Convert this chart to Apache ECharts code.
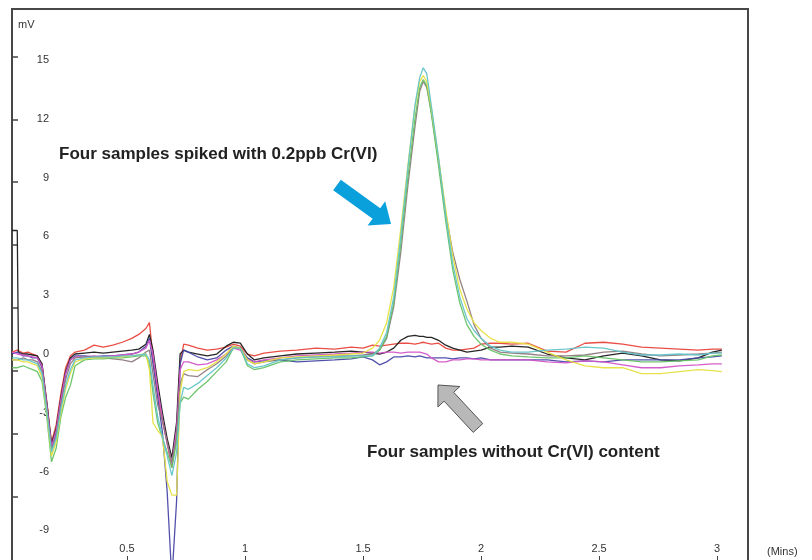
<!DOCTYPE html>
<html>
<head>
<meta charset="utf-8">
<script src="https://cdn.jsdelivr.net/npm/echarts@6/dist/echarts.min.js"></script>
<style>html,body{margin:0;padding:0;background:#fff}#main{width:812px;height:560px}</style>
</head>
<body>
<div id="main"></div>
<script>
var mins = [0.013, 0.035, 0.04, 0.06, 0.08, 0.10, 0.12, 0.14, 0.16, 0.18, 0.20, 0.22, 0.24, 0.26, 0.28,
    0.32, 0.36, 0.40, 0.44, 0.48, 0.52, 0.55, 0.58,
    0.595, 0.61, 0.63, 0.65, 0.67, 0.69, 0.71, 0.725, 0.74,
    0.76, 0.80, 0.84, 0.88, 0.92, 0.95, 0.98, 1.01, 1.04, 1.08,
    1.15, 1.22, 1.30, 1.38, 1.45, 1.50,
    1.54, 1.57, 1.60, 1.63, 1.66, 1.69, 1.72, 1.74, 1.755, 1.77, 1.79, 1.82, 1.85, 1.88, 1.91, 1.94, 1.97, 2.00, 2.04, 2.08, 2.13,
    2.20, 2.28, 2.36, 2.44, 2.52, 2.60, 2.68, 2.76, 2.84, 2.92, 2.98, 3.02];

// four samples without Cr(VI)
var red = [0.1, 0.2, 0.15, 0.05, 0.1, 0.0, -0.1, -0.6, -2.4, -4.5, -3.6, -2.0, -0.7, -0.1, 0.1,
    0.2, 0.45, 0.35, 0.45, 0.6, 0.8, 1.0, 1.3,
    1.6, -0.2, -2.0, -3.4, -4.5, -5.8, -4.0, -0.5, 0.5,
    0.45, 0.3, 0.2, 0.25, 0.35, 0.5, 0.4, 0.0, -0.1, 0.05,
    0.15, 0.2, 0.3, 0.25, 0.35, 0.3,
    0.45, 0.4, 0.45, 0.5, 0.55, 0.55, 0.5, 0.55, 0.6, 0.55, 0.5, 0.55, 0.3, 0.2, 0.2, 0.25, 0.3, 0.5, 0.55, 0.55, 0.5,
    0.55, 0.15, 0.1, 0.55, 0.6, 0.5, 0.35, 0.3, 0.25, 0.2, 0.25, 0.25];
var black = [6.3, 6.3, 0.1, 0.0, 0.0, -0.05, -0.1, -0.5, -2.5, -4.6, -3.8, -2.2, -0.9, -0.2, 0.0,
    0.05, 0.1, 0.05, 0.1, 0.15, 0.2, 0.25, 0.5,
    1.0, 0.2, -1.5, -3.0, -4.3, -5.3, -3.5, 0.0, 0.2,
    0.1, 0.0, -0.1, 0.0, 0.4, 0.6, 0.55, 0.0, -0.3, -0.2,
    -0.1, 0.0, 0.05, 0.1, 0.15, 0.1,
    0.05, 0.0, 0.1, 0.3, 0.7, 0.9, 0.95, 0.9, 0.9, 0.85, 0.85, 0.7, 0.45, 0.3, 0.2, 0.1, 0.15, 0.2, 0.35, 0.35, 0.4,
    0.35, 0.0, -0.2, -0.3, -0.1, 0.05, -0.1, -0.3, -0.35, -0.2, 0.1, 0.2];
var blue = [0.0, 0.1, 0.0, -0.1, -0.1, -0.2, -0.2, -0.7, -2.6, -4.8, -4.0, -2.4, -1.0, -0.3, -0.1,
    -0.1, -0.15, -0.1, -0.1, -0.05, 0.0, 0.1, 0.4,
    0.8, -0.5, -2.2, -4.0, -7.0, -11.5, -7.5, -0.5, 0.2,
    0.1, -0.15, -0.3, -0.2, 0.2, 0.4, 0.3, -0.2, -0.4, -0.35,
    -0.3, -0.4, -0.35, -0.3, -0.25, -0.15,
    -0.3, -0.55, -0.4, -0.15, -0.15, -0.1, -0.15, -0.1, -0.15, -0.2, -0.2, -0.2, -0.2, -0.25, -0.2, -0.2, -0.25, -0.2, -0.3, -0.3, -0.3,
    -0.3, -0.3, -0.4, -0.35, -0.4, -0.3, -0.3, -0.3, -0.3, -0.2, -0.15, -0.1];
var magenta = [0.1, 0.0, 0.0, -0.05, -0.1, -0.15, -0.2, -0.6, -2.6, -4.7, -3.9, -2.3, -1.0, -0.3, -0.15,
    -0.15, -0.1, -0.15, -0.1, -0.05, 0.0, 0.1, 0.3,
    0.7, 0.0, -1.8, -3.3, -4.6, -5.6, -3.8, -0.8, -0.4,
    -0.4, -0.55, -0.5, -0.3, 0.0, 0.3, 0.2, -0.3, -0.4, -0.3,
    -0.2, -0.1, -0.05, 0.0, 0.05, 0.1,
    0.1, 0.05, 0.1, 0.1, 0.05, 0.1, 0.1, 0.1, 0.05, 0.0, -0.2, -0.4, -0.4, -0.3, -0.3, -0.25, -0.25, -0.3, -0.3, -0.3, -0.3,
    -0.3, -0.4, -0.45, -0.35, -0.4, -0.55, -0.7, -0.7, -0.6, -0.55, -0.5, -0.5];

// four samples spiked with 0.2ppb Cr(VI)
var gray = [-0.3, -0.3, -0.3, -0.2, -0.3, -0.3, -0.4, -0.9, -2.8, -4.9, -4.2, -2.6, -1.3, -0.5, -0.2,
    -0.15, -0.15, -0.2, -0.25, -0.3, -0.4, -0.2, 0.1,
    0.2, -1.0, -2.6, -3.4, -4.5, -5.5, -4.3, -1.5, -1.0,
    -1.1, -1.15, -0.8, -0.5, -0.1, 0.3, 0.3, -0.3, -0.5, -0.4,
    -0.3, -0.2, -0.15, -0.1, -0.1, -0.05,
    0.0, 0.2, 0.8, 2.4, 5.2, 8.6, 11.6, 13.4, 13.9, 13.6, 12.3, 9.8, 7.2, 5.2, 3.8, 2.7, 1.5, 0.8, 0.3, 0.1, 0.05,
    0.0, -0.1, -0.1, -0.05, 0.1, 0.15, 0.0, -0.1, -0.05, 0.0, 0.05, 0.1];
var green = [-0.7, -0.7, -0.6, -0.6, -0.7, -0.8, -0.9, -1.4, -3.2, -5.5, -4.8, -3.2, -2.2, -1.6, -0.6,
    -0.3, -0.25, -0.25, -0.2, -0.2, -0.15, -0.1, -0.1,
    -0.5, -2.0, -3.5, -4.3, -5.0, -5.8, -4.5, -2.5, -2.2,
    -2.3, -1.8, -1.4, -0.9, -0.4, 0.3, 0.3, -0.6, -0.8, -0.7,
    -0.4, -0.3, -0.25, -0.2, -0.2, -0.15,
    -0.1, 0.2, 0.9, 2.6, 5.6, 9.0, 12.0, 13.6, 14.0, 13.7, 12.2, 9.6, 6.8, 4.3, 2.6, 1.5, 0.9, 0.5, 0.2, 0.0, -0.1,
    -0.15, -0.2, -0.2, -0.1, -0.2, -0.3, -0.4, -0.4, -0.35, -0.3, -0.1, -0.05];
var yellow = [-0.3, -0.3, -0.3, -0.4, -0.4, -0.5, -0.6, -1.2, -3.0, -5.2, -4.5, -3.0, -1.8, -1.0, -0.4,
    -0.25, -0.2, -0.2, -0.15, -0.15, -0.1, -0.05, 0.0,
    -0.8, -3.5, -3.9, -4.2, -6.5, -7.2, -7.2, -2.0, -0.9,
    -0.8, -0.85, -0.7, -0.4, 0.0, 0.4, 0.3, -0.3, -0.5, -0.4,
    -0.2, -0.15, -0.1, -0.05, 0.0, 0.05,
    0.3, 0.7, 1.6, 3.4, 6.4, 9.6, 12.6, 13.9, 14.2, 13.9, 12.5, 10.0, 7.4, 5.0, 3.3, 2.3, 1.6, 1.2, 0.8, 0.6, 0.6,
    0.5, 0.1, -0.3, -0.6, -0.7, -0.7, -1.0, -1.0, -0.9, -0.8, -0.85, -0.9];
var cyan = [-0.2, -0.2, -0.2, -0.3, -0.3, -0.4, -0.5, -1.0, -2.9, -5.0, -4.3, -2.8, -1.6, -0.8, -0.3,
    -0.2, -0.15, -0.15, -0.15, -0.1, -0.1, -0.05, 0.0,
    -0.3, -1.6, -3.2, -4.2, -5.2, -6.2, -5.0, -2.5, -1.7,
    -1.8, -1.5, -1.1, -0.7, -0.2, 0.3, 0.3, -0.5, -0.7, -0.6,
    -0.3, -0.2, -0.15, -0.15, -0.1, -0.1,
    -0.1, 0.3, 1.1, 2.9, 6.0, 9.5, 12.7, 14.1, 14.6, 14.3, 12.6, 10.0, 7.1, 4.6, 2.9, 1.8, 1.2, 0.8, 0.4, 0.2, 0.1,
    0.1, 0.2, 0.25, 0.35, 0.3, 0.1, -0.05, -0.05, 0.0, -0.05, 0.05, 0.05];

var yLabelValues = [-9, -6, -3, 0, 3, 6, 9, 12, 15];
var yTickValues = [-7.3, -4.08, -0.87, 2.35, 5.56, 8.78, 11.96, 15.15];
var xLabelValues = [0.5, 1, 1.5, 2, 2.5, 3];

var font = 'Liberation Sans, Arial, Helvetica, sans-serif';

function pairs(vals) {
    return mins.map(function (t, i) { return [t, vals[i]]; });
}

// polygon for a block arrow from (x0,y0) to the tip (x1,y1)
function arrowShape(x0, y0, x1, y1, sw, hw, hl) {
    var dx = x1 - x0, dy = y1 - y0;
    var len = Math.sqrt(dx * dx + dy * dy);
    var ux = dx / len, uy = dy / len;
    var px = -uy, py = ux;
    var bx = x1 - ux * hl, by = y1 - uy * hl;
    return [
        [x0 + px * sw / 2, y0 + py * sw / 2],
        [bx + px * sw / 2, by + py * sw / 2],
        [bx + px * hw / 2, by + py * hw / 2],
        [x1, y1],
        [bx - px * hw / 2, by - py * hw / 2],
        [bx - px * sw / 2, by - py * sw / 2],
        [x0 - px * sw / 2, y0 - py * sw / 2]
    ];
}

function trace(data, color) {
    return {
        type: 'line',
        data: pairs(data),
        showSymbol: false,
        symbol: 'none',
        silent: true,
        lineStyle: { color: color, width: 1.3, opacity: 0.95 }
    };
}

var chart = echarts.init(document.getElementById('main'));

var option = {
    animation: false,
    backgroundColor: '#fff',
    grid: {
        left: 12, right: 64, top: 9, bottom: -2,
        show: true,
        borderColor: '#474747',
        borderWidth: 2,
        outerBoundsMode: 'none'
    },
    xAxis: {
        type: 'value',
        min: 0.0127,
        max: 3.131,
        axisLine: { show: false, onZero: false },
        splitLine: { show: false },
        axisTick: {
            show: true, inside: true, length: 6,
            customValues: xLabelValues,
            lineStyle: { color: '#444', width: 1 }
        },
        axisLabel: {
            inside: true, margin: 8,
            customValues: xLabelValues,
            color: '#333', fontSize: 11, fontFamily: font
        }
    },
    yAxis: {
        type: 'value',
        min: -10.61,
        max: 17.6,
        axisLine: { show: false, onZero: false },
        splitLine: { show: false },
        axisTick: {
            show: true, inside: true, length: 6,
            customValues: yTickValues,
            lineStyle: { color: '#444', width: 1.5 }
        },
        axisLabel: {
            inside: true, margin: 37, align: 'right',
            customValues: yLabelValues,
            color: '#333', fontSize: 11, fontFamily: font
        }
    },
    graphic: [
        { type: 'text', left: 18, top: 19, style: { text: 'mV', fill: '#333', font: '11px ' + font } },
        { type: 'text', left: 767, top: 546, style: { text: '(Mins)', fill: '#333', font: '11px ' + font } },
        { type: 'text', left: 59, top: 146, style: { text: 'Four samples spiked with 0.2ppb Cr(VI)', fill: '#222', font: 'bold 17px ' + font } },
        { type: 'text', left: 367, top: 444, style: { text: 'Four samples without Cr(VI) content', fill: '#222', font: 'bold 17px ' + font } },
        {
            type: 'polygon', z: 10,
            shape: { points: arrowShape(337, 185, 391, 224, 13, 30, 18) },
            style: { fill: '#0aa0dc' }
        },
        {
            type: 'polygon', z: 10,
            shape: { points: arrowShape(478, 428, 438, 385, 13, 30, 16) },
            style: { fill: '#b8b8b8', stroke: '#555', lineWidth: 1 }
        }
    ],
    series: [
        trace(red, '#e8453c'),
        trace(black, '#1a1a1a'),
        trace(blue, '#4848a8'),
        trace(magenta, '#d254c8'),
        trace(gray, '#8e7a7e'),
        trace(green, '#66c266'),
        trace(yellow, '#e6e040'),
        trace(cyan, '#62c4c8')
    ]
};

chart.setOption(option);
</script>
</body>
</html>
